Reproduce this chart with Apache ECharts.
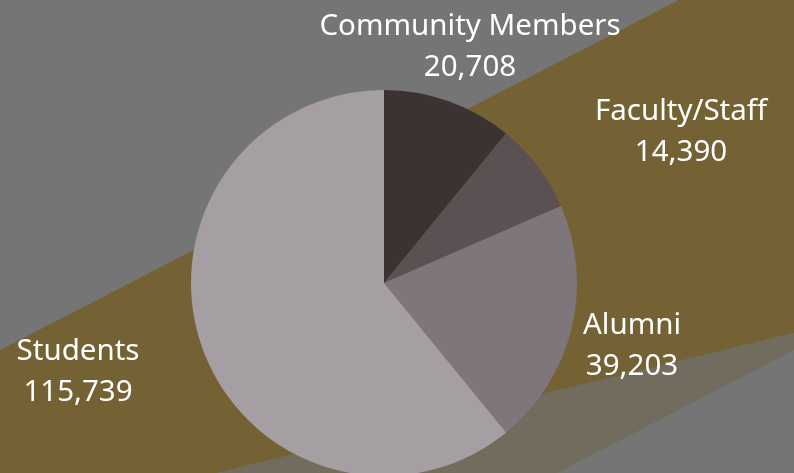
<!DOCTYPE html>
<html>
<head>
<meta charset="utf-8">
<style>
  html, body { margin: 0; padding: 0; background: #757575; }
  #chart { width: 794px; height: 473px; }
</style>
<script src="https://cdn.jsdelivr.net/npm/echarts@6/dist/echarts.min.js"></script>
</head>
<body>
<div id="chart"></div>
<script>
// Audience breakdown
const categories = ['Community Members', 'Faculty/Staff', 'Alumni', 'Students'];
const values = [20708, 14390, 39203, 115739];

const sliceColors = ['#3b3332', '#5b5153', '#7e767b', '#a59fa3'];
// label anchor points (text centres) for each slice
const labelAnchors = [[470, 47], [681, 132], [632, 346], [78, 372]];

const chart = echarts.init(document.getElementById('chart'), null, { renderer: 'canvas' });

chart.setOption({
  animation: false,
  backgroundColor: '#757575',
  graphic: [
    {
      type: 'polygon', z: -10, silent: true,
      shape: { points: [[0, 350], [679, 0], [794, 0], [794, 333], [217, 473], [0, 473]] },
      style: { fill: '#756234' }
    },
    {
      type: 'polygon', z: -10, silent: true,
      shape: { points: [[217, 473], [794, 333], [794, 350], [557, 473]] },
      style: { fill: '#726c5f' }
    }
  ],
  series: [{
    type: 'pie',
    center: [384, 283],
    radius: [0, 193],
    startAngle: 90,
    clockwise: true,
    silent: true,
    data: categories.map((name, i) => ({
      name: name,
      value: values[i],
      itemStyle: { color: sliceColors[i] }
    })),
    label: {
      show: true,
      position: 'outside',
      overflow: 'none',
      formatter: p => p.name + '\n' + p.value.toLocaleString('en-US'),
      color: '#ffffff',
      fontFamily: 'Noto Sans',
      fontSize: 29.5,
      lineHeight: 41,
      align: 'center'
    },
    labelLine: { show: false },
    labelLayout: function (params) {
      const a = labelAnchors[params.dataIndex];
      return { x: a[0], y: a[1], align: 'center', verticalAlign: 'middle' };
    }
  }]
});
</script>
</body>
</html>
